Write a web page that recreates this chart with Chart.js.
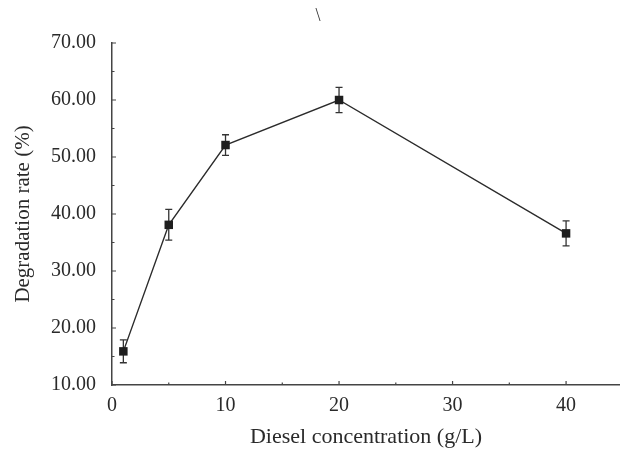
<!DOCTYPE html>
<html><head><meta charset="utf-8">
<script src="https://cdn.jsdelivr.net/npm/chart.js@4/dist/chart.umd.min.js"></script>
<style>html,body{margin:0;padding:0;background:#fff}#wrap{width:620px;height:450px;position:relative}</style>
</head><body><div id="wrap"><canvas id="c" width="620" height="450"></canvas></div>
<script>
const concentrations = [1, 5, 10, 20, 40];
const degradationRates = [15.9, 38.1, 52.1, 60.0, 36.6];
const errorValues = [2.0, 2.7, 1.8, 2.2, 2.2];
const yTickValues = [10, 20, 30, 40, 50, 60, 70];
const yMinorTickValues = [15, 25, 35, 45, 55, 65];
const xTickValues = [0, 10, 20, 30, 40];
const xMinorTickValues = [5, 15, 25, 35];
const xTitle = 'Diesel concentration (g/L)';
const yTitle = 'Degradation rate (%)';
const strayMark = '\\';

const FONT = '"Liberation Serif", "Times New Roman", serif';
const INK = '#2a2a2a';

const extras = {
  id: 'extras',
  beforeDatasetsDraw(chart) {
    const ctx = chart.ctx, xs = chart.scales.x, ys = chart.scales.y;
    ctx.save();
    ctx.strokeStyle = '#333';
    ctx.lineWidth = 1.3;
    concentrations.forEach((c, i) => {
      const px = xs.getPixelForValue(c);
      const top = ys.getPixelForValue(degradationRates[i] + errorValues[i]);
      const bot = ys.getPixelForValue(degradationRates[i] - errorValues[i]);
      ctx.beginPath();
      ctx.moveTo(px, top); ctx.lineTo(px, bot);
      ctx.moveTo(px - 3.5, top); ctx.lineTo(px + 3.5, top);
      ctx.moveTo(px - 3.5, bot); ctx.lineTo(px + 3.5, bot);
      ctx.stroke();
    });
    ctx.restore();
  },
  afterDraw(chart) {
    const ctx = chart.ctx, xs = chart.scales.x, ys = chart.scales.y, a = chart.chartArea;
    ctx.save();
    ctx.strokeStyle = '#444';
    ctx.lineWidth = 1.2;
    ctx.beginPath();
    yTickValues.forEach(v => { const p = ys.getPixelForValue(v); ctx.moveTo(a.left, p); ctx.lineTo(a.left + 4, p); });
    yMinorTickValues.forEach(v => { const p = ys.getPixelForValue(v); ctx.moveTo(a.left, p); ctx.lineTo(a.left + 2.5, p); });
    xTickValues.forEach(v => { const p = xs.getPixelForValue(v); ctx.moveTo(p, a.bottom); ctx.lineTo(p, a.bottom - 4); });
    xMinorTickValues.forEach(v => { const p = xs.getPixelForValue(v); ctx.moveTo(p, a.bottom); ctx.lineTo(p, a.bottom - 2.5); });
    ctx.stroke();
    ctx.fillStyle = '#333';
    ctx.font = '18px ' + FONT;
    ctx.textAlign = 'center';
    ctx.textBaseline = 'middle';
    ctx.fillText(strayMark, 318, 16);
    ctx.restore();
  }
};

new Chart(document.getElementById('c'), {
  type: 'scatter',
  data: {
    datasets: [{
      data: concentrations.map((c, i) => ({ x: c, y: degradationRates[i] })),
      showLine: true,
      borderColor: '#2b2b2b',
      borderWidth: 1.4,
      pointStyle: 'rect',
      pointRadius: 6,
      pointBackgroundColor: '#1e1e1e',
      pointBorderColor: '#1e1e1e',
      pointBorderWidth: 0,
      tension: 0
    }]
  },
  options: {
    responsive: false,
    devicePixelRatio: 1,
    animation: false,
    layout: { autoPadding: false, padding: { top: 43, right: 0, left: 0, bottom: 0 } },
    plugins: { legend: { display: false }, tooltip: { enabled: false } },
    scales: {
      x: {
        type: 'linear', min: 0, max: 44.75,
        afterBuildTicks: s => { s.ticks = xTickValues.map(v => ({ value: v })); },
        afterFit: s => { s.height = 65; s.paddingLeft = 0; s.paddingRight = 0; },
        grid: { display: true, drawOnChartArea: false, drawTicks: false },
        border: { display: true, color: '#444', width: 1.5 },
        ticks: { color: INK, padding: 9, maxRotation: 0, autoSkip: false, font: { family: FONT, size: 20 } },
        title: { display: true, text: xTitle, color: INK, padding: { top: 4, bottom: 0 }, font: { family: FONT, size: 22 } }
      },
      y: {
        type: 'linear', min: 10, max: 70,
        afterBuildTicks: s => { s.ticks = yTickValues.map(v => ({ value: v })); },
        afterFit: s => { s.width = 112; s.paddingTop = 0; s.paddingBottom = 0; },
        grid: { display: true, drawOnChartArea: false, drawTicks: false },
        border: { display: true, color: '#444', width: 1.5 },
        ticks: { color: INK, padding: 16, autoSkip: false, callback: v => Number(v).toFixed(2), font: { family: FONT, size: 20 } },
        title: { display: true, text: yTitle, color: INK, padding: { top: 11, bottom: 0 }, font: { family: FONT, size: 21 } }
      }
    }
  },
  plugins: [extras]
});
</script></body></html>
